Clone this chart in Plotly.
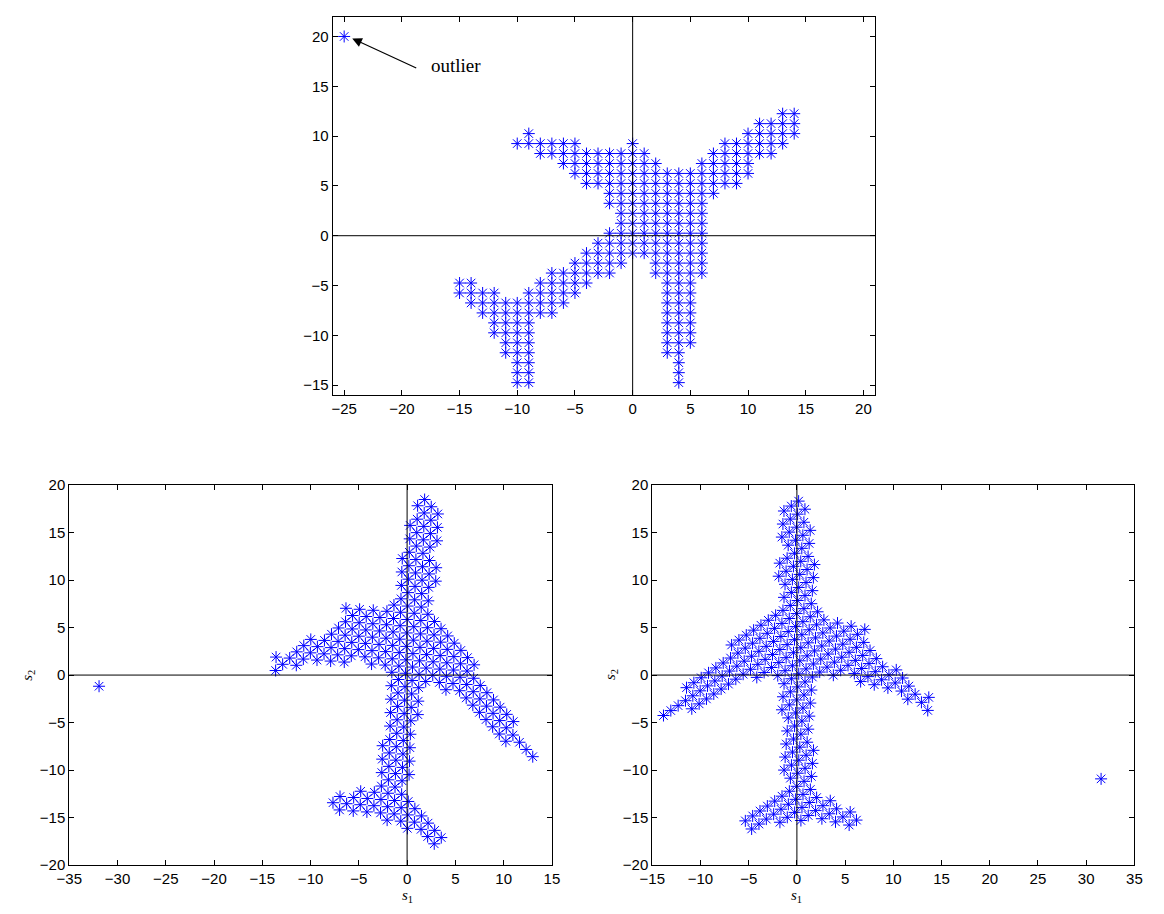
import numpy as np
import plotly.graph_objects as go

# ---- observed (mixed) data: rows of the point lattice, y level -> x positions ----
row_y = [12.25, 11.25, 10.25, 9.25, 8.25, 7.25, 6.25, 5.25, 4.25, 3.25, 2.25, 1.25,
         0.25, -0.75, -1.75, -2.75, -3.75, -4.75, -5.75, -6.75, -7.75, -8.75, -9.75,
         -10.75, -11.75, -12.75, -13.75, -14.75]
row_x = [
    [13, 14],
    [11, 12, 13, 14],
    [-9, 10, 11, 12, 13, 14],
    [-10, -9, -8, -7, -6, -5, 0, 8, 9, 10, 11, 12, 13],
    [-8, -7, -6, -5, -4, -3, -2, -1, 0, 1, 7, 8, 9, 10, 11, 12],
    [-6, -5, -4, -3, -2, -1, 0, 1, 2, 6, 7, 8, 9, 10],
    [-5, -4, -3, -2, -1, 0, 1, 2, 3, 4, 5, 6, 7, 8, 9, 10],
    [-4, -3, -2, -1, 0, 1, 2, 3, 4, 5, 6, 7, 8, 9],
    [-2, -1, 0, 1, 2, 3, 4, 5, 6, 7],
    [-2, -1, 0, 1, 2, 3, 4, 5, 6],
    [-1, 0, 1, 2, 3, 4, 5, 6],
    [-1, 0, 1, 2, 3, 4, 5, 6],
    [-2, -1, 0, 1, 2, 3, 4, 5, 6],
    [-3, -2, -1, 0, 1, 2, 3, 4, 5, 6],
    [-4, -3, -2, -1, 0, 1, 2, 3, 4, 5, 6],
    [-5, -4, -3, -2, -1, 2, 3, 4, 5, 6],
    [-7, -6, -5, -4, -3, -2, 2, 3, 4, 5, 6],
    [-15, -14, -8, -7, -6, -5, -4, 3, 4, 5],
    [-15, -14, -13, -12, -9, -8, -7, -6, -5, 3, 4, 5],
    [-14, -13, -12, -11, -10, -9, -8, -7, -6, 3, 4, 5],
    [-13, -12, -11, -10, -9, -8, -7, 3, 4, 5],
    [-12, -11, -10, -9, 3, 4, 5],
    [-12, -11, -10, -9, 3, 4, 5],
    [-11, -10, -9, 3, 4, 5],
    [-11, -10, -9, 3, 4],
    [-10, -9, 4],
    [-10, -9, 4],
    [-10, -9, 4],
]
outlier_xy = [-25.0, 20.0]

# separating matrices of the two estimators (rows give s1, s2)
W_left = [[0.7288, -0.6847],
          [0.655, 0.760]]
W_right = [[-0.653, 0.761],
           [0.853, 0.520]]

# ticks
top_xticks = [-25, -20, -15, -10, -5, 0, 5, 10, 15, 20]
top_yticks = [-15, -10, -5, 0, 5, 10, 15, 20]
left_xticks = [-35, -30, -25, -20, -15, -10, -5, 0, 5, 10, 15]
right_xticks = [-15, -10, -5, 0, 5, 10, 15, 20, 25, 30, 35]
bottom_yticks = [-20, -15, -10, -5, 0, 5, 10, 15, 20]

# ---- assemble observations ----
xs, ys = [], []
for yv, xrow in zip(row_y, row_x):
    for xv in xrow:
        xs.append(xv)
        ys.append(yv)
xs.append(outlier_xy[0])
ys.append(outlier_xy[1])
X = np.vstack([xs, ys])
S_left = np.array(W_left) @ X
S_right = np.array(W_right) @ X

W, H = 1164, 914


def dom_x(a, b):
    return [a / W, b / W]


def dom_y(top, bottom):
    return [1 - bottom / H, 1 - top / H]


def px_x(a):
    return a / W


def px_y(a):
    return 1 - a / H


marker = dict(symbol="asterisk-open", size=10, color="#0000ff",
              line=dict(width=1, color="#0000ff"))

fig = go.Figure()
fig.add_trace(go.Scatter(x=X[0], y=X[1], mode="markers", marker=marker,
                         xaxis="x", yaxis="y", showlegend=False, hoverinfo="skip"))
fig.add_trace(go.Scatter(x=S_left[0], y=S_left[1], mode="markers", marker=marker,
                         xaxis="x2", yaxis="y2", showlegend=False, hoverinfo="skip"))
fig.add_trace(go.Scatter(x=S_right[0], y=S_right[1], mode="markers", marker=marker,
                         xaxis="x3", yaxis="y3", showlegend=False, hoverinfo="skip"))

tickfont = dict(family="Liberation Sans, Arial, sans-serif", size=15, color="black")


def label(t):
    return str(t).replace("-", "\u2212")


def ax(rng, ticks, domain, anchor):
    return dict(range=rng, domain=domain, anchor=anchor, tickvals=ticks,
                ticktext=[label(t) for t in ticks], ticks="inside", ticklen=5,
                tickcolor="black", showline=True, linecolor="black", linewidth=1,
                mirror="ticks", showgrid=False, zeroline=False,
                tickfont=tickfont, fixedrange=True)


fig.update_layout(
    width=W, height=H, margin=dict(l=0, r=0, t=0, b=0), autosize=False,
    paper_bgcolor="white", plot_bgcolor="white",
    xaxis=ax([-26, 21], top_xticks, dom_x(325.5, 877.8), "y"),
    yaxis=ax([-16, 22], top_yticks, dom_y(7.7, 393.4), "x"),
    xaxis2=ax([-35, 15], left_xticks, dom_x(57.3, 548.8), "y2"),
    yaxis2=ax([-20, 20], bottom_yticks, dom_y(485.1, 872.3), "x2"),
    xaxis3=ax([-15, 35], right_xticks, dom_x(651, 1142), "y3"),
    yaxis3=ax([-20, 20], bottom_yticks, dom_y(485.1, 872.3), "x3"),
)

# coordinate axes through the origin of each panel, drawn over the points
shapes = []
for xa, ya in [("x", "y"), ("x2", "y2"), ("x3", "y3")]:
    shapes.append(dict(type="line", xref=xa, yref=f"{ya} domain", x0=0, x1=0, y0=0, y1=1,
                       line=dict(color="black", width=1), layer="above"))
    shapes.append(dict(type="line", xref=f"{xa} domain", yref=ya, x0=0, x1=1, y0=0, y1=0,
                       line=dict(color="black", width=1), layer="above"))
fig.update_layout(shapes=shapes)

serif = "Liberation Serif, Times New Roman, serif"
lab = dict(family=serif, size=15, color="black")
annotations = [
    # arrow pointing at the outlier
    dict(x=-24.3, y=19.8, xref="x", yref="y", text=" ", showarrow=True,
         ax=67, ay=31, arrowhead=2, arrowsize=1.6, arrowwidth=1.2, arrowcolor="black"),
    dict(x=-15.3, y=17.1, xref="x", yref="y", text="outlier", showarrow=False,
         font=dict(family=serif, size=19, color="black")),
    dict(x=0, y=px_y(904), xref="x2", yref="paper", text="<i>s</i><sub>1</sub>",
         showarrow=False, xanchor="center", yanchor="middle", font=lab),
    dict(x=0, y=px_y(904), xref="x3", yref="paper", text="<i>s</i><sub>1</sub>",
         showarrow=False, xanchor="center", yanchor="middle", font=lab),
    dict(x=px_x(15), y=0, xref="paper", yref="y2", text="<i>s</i><sub>2</sub>",
         showarrow=False, textangle=-90, xanchor="center", yanchor="middle", font=lab),
    dict(x=px_x(609), y=0, xref="paper", yref="y3", text="<i>s</i><sub>2</sub>",
         showarrow=False, textangle=-90, xanchor="center", yanchor="middle", font=lab),
]
fig.update_layout(annotations=annotations)

# let the figure fill the page from its top-left corner
page_setup = ("document.body.style.margin='0';"
              "document.body.style.overflow='hidden';")
fig.write_html("out.html", config={"responsive": False}, post_script=page_setup)
